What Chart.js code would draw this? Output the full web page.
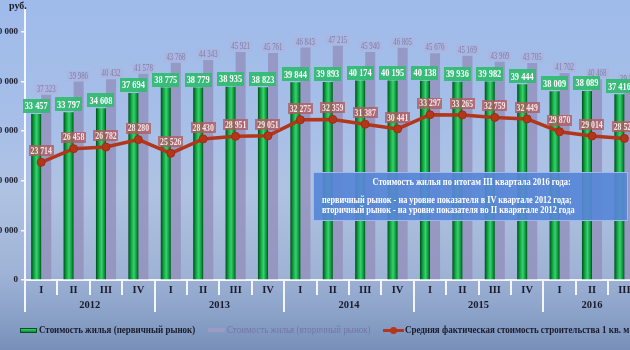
<!DOCTYPE html>
<html><head><meta charset="utf-8">
<script src="https://cdn.jsdelivr.net/npm/chart.js@4"></script>
<style>
html,body{margin:0;padding:0;width:630px;height:350px;overflow:hidden;}
body{background:linear-gradient(to bottom,#9fbbea 0%,#a7bfe8 35%,#afc2e2 55%,#9fb3d6 78%,#8aa1c8 90%,#7890b9 100%);position:relative;font-family:'Liberation Serif','Times New Roman',serif;}
#wrap{position:absolute;left:0;top:0;width:652px;height:350px;}
#rub{position:absolute;left:9px;top:0px;font:bold 10px 'Liberation Serif',serif;color:#1c1c2c;}
#note{position:absolute;left:313px;top:172px;width:315px;height:49px;background:rgba(88,134,214,0.93);border:1px solid #9dbaf0;box-sizing:border-box;color:#fff;font:bold 9.6px 'Liberation Serif',serif;}
#note .t{position:absolute;left:0;width:315px;top:3px;text-align:center;}
#note .t span{display:inline-block;transform:scaleX(0.88);transform-origin:center;}
#note .l1,#note .l2{position:absolute;left:8px;white-space:nowrap;transform:scaleX(0.86);transform-origin:left;}
#note .l1{top:21px;}
#note .l2{top:31px;}
#legend{position:absolute;left:0;top:323px;width:640px;height:14px;font:bold 10.2px 'Liberation Serif',serif;white-space:nowrap;}
.li{position:absolute;top:0;line-height:14px;transform:scaleX(0.88);transform-origin:left;}
.sw{position:absolute;top:5px;width:17px;height:4px;}
</style></head>
<body>
<div id="wrap"><canvas id="c" width="652" height="350"></canvas></div>
<div id="rub">руб.</div>
<div id="note"><div class="t"><span>Стоимость жилья по итогам III квартала 2016 года:</span></div>
<div class="l1">первичный рынок - на уровне показателя в IV квартале 2012 года;</div>
<div class="l2">вторичный рынок - на уровне показателя во II кварятале 2012 года</div></div>
<div id="legend">
<div class="sw" style="left:20px;background:linear-gradient(#36d070,#0a8a35);border:1px solid #05501f;box-sizing:border-box;height:5px;"></div>
<div class="li" style="left:39px;color:#1a1a28;">Стоимость жилья (первичный рынок)</div>
<div class="sw" style="left:208px;background:#9a9cc4;"></div>
<div class="li" style="left:227px;color:#7476a3;font-weight:normal;">Стоимость жилья (вторичный рынок)</div>
<div class="sw" style="left:383px;top:6px;height:3px;width:21px;background:#b5361a;"></div>
<div class="sw" style="left:390px;top:4px;width:7px;height:7px;border-radius:50%;background:#b5361a;"></div>
<div class="li" style="left:405px;color:#1a1a28;">Средняя фактическая стоимость строительства 1 кв. м</div>
</div>
<script>
const categories = ['I','II','III','IV','I','II','III','IV','I','II','III','IV','I','II','III','IV','I','II','III'];
const years = ['2012','2013','2014','2015','2016'];
const quartersPerYear = [4,4,4,4,3];
const primary = [33457,33797,34608,37694,38775,38779,38935,38823,39844,39893,40174,40195,40138,39936,39982,39444,38009,38089,37416];
const secondary = [37323,39986,40432,41578,43768,44343,45921,45761,46843,47215,45940,46805,45676,45169,43969,43705,41702,40468,39340];
const buildCost = [23714,26458,26782,28280,25526,28430,28951,29051,32275,32359,31387,30441,33297,33265,32759,32449,29870,29014,28520];
const yTicks = [0,10000,20000,30000,40000,50000];

const fmt = v => String(v).replace(/\B(?=(\d{3})+(?!\d))/g,' ');
const SERIF = "'Liberation Serif','Times New Roman',serif";

function greenFill(c){
  const chart=c.chart, xs=chart.scales && chart.scales.x;
  if(!xs || c.dataIndex==null || !chart.chartArea) return '#12a243';
  const bw = xs.width/categories.length*0.62/2;
  const cx = xs.getPixelForValue(c.dataIndex) - bw/2;
  const g = chart.ctx.createLinearGradient(cx-bw/2,0,cx+bw/2,0);
  g.addColorStop(0,'#004d1c');
  g.addColorStop(0.3,'#12a843');
  g.addColorStop(0.55,'#36d26e');
  g.addColorStop(0.85,'#0c8e37');
  g.addColorStop(1,'#00501d');
  return g;
}

function box(ctx,text,cx,bottom,font,sx,h,padX,bg,fg){
  ctx.font=font;
  const tw=ctx.measureText(text).width*sx;
  const w=tw+padX*2;
  ctx.fillStyle=bg;
  ctx.fillRect(Math.round(cx-w/2),Math.round(bottom-h),Math.round(w),h);
  ctx.fillStyle=fg;
  ctx.textAlign='center';ctx.textBaseline='middle';
  ctx.save();ctx.translate(cx,bottom-h/2+0.5);ctx.scale(sx,1);
  ctx.fillText(text,0,0);
  ctx.restore();
}

const labelsPlugin={
  id:'labels',
  afterDatasetsDraw(chart){
    const ctx=chart.ctx;ctx.save();
    const m1=chart.getDatasetMeta(1), m0=chart.getDatasetMeta(0), m2=chart.getDatasetMeta(2);
    m1.data.forEach((el,i)=>box(ctx,fmt(secondary[i]),el.x,el.y-1,'9.5px '+SERIF,0.72,10,2,'rgba(176,176,218,0.6)','#7b7da9'));
    m0.data.forEach((el,i)=>box(ctx,fmt(primary[i]),el.x,el.y-1,'bold 11px '+SERIF,0.76,14,2,'rgba(52,186,116,0.95)','#ffffff'));
    m2.data.forEach((el,i)=>box(ctx,fmt(buildCost[i]),el.x,el.y-6,'bold 10.5px '+SERIF,0.74,11,2,'rgba(176,92,98,0.8)','#f6e6e6'));
    ctx.restore();
  },
  afterDraw(chart){
    const ctx=chart.ctx, xs=chart.scales.x, bottom=chart.chartArea.bottom;
    const step=xs.width/categories.length;
    ctx.save();
    ctx.strokeStyle='#f4f6fb';ctx.lineWidth=2;
    let idx=0; const yearStarts=new Set();
    quartersPerYear.forEach(n=>{yearStarts.add(idx);idx+=n;});
    for(let i=0;i<categories.length;i++){
      const x=Math.round(xs.left+i*step);
      ctx.beginPath();ctx.moveTo(x,bottom);ctx.lineTo(x,yearStarts.has(i)?312:295);ctx.stroke();
    }
    ctx.fillStyle='#1a1a2a';ctx.font='bold 10.5px '+SERIF;ctx.textAlign='center';ctx.textBaseline='middle';
    idx=0;
    years.forEach((y,k)=>{
      const n=quartersPerYear[k];
      const cx=xs.left+(idx+n/2)*step;
      ctx.fillText(y,cx,305);
      idx+=n;
    });
    ctx.restore();
  }
};

new Chart(document.getElementById('c'),{
  data:{
    labels:categories,
    datasets:[
      {type:'bar',label:'Стоимость жилья (первичный рынок)',data:primary,backgroundColor:greenFill,order:2,categoryPercentage:0.62,barPercentage:1},
      {type:'bar',label:'Стоимость жилья (вторичный рынок)',data:secondary,backgroundColor:'rgba(146,144,188,0.8)',order:2,categoryPercentage:0.62,barPercentage:1},
      {type:'line',label:'Средняя фактическая стоимость строительства 1 кв. м',data:buildCost,borderColor:'#b3361a',borderWidth:3.5,pointRadius:4,pointBackgroundColor:'#b3361a',pointBorderColor:'#a02c12',pointBorderWidth:1,tension:0,order:0}
    ]
  },
  options:{
    responsive:false,animation:false,
    layout:{padding:{top:10,right:11.4,left:0,bottom:0}},
    plugins:{legend:{display:false},tooltip:{enabled:false}},
    scales:{
      x:{offset:true,grid:{display:false,drawTicks:false},border:{color:'#f4f6fb',width:2},
         ticks:{padding:4,color:'#1a1a2a',font:{family:SERIF,size:10.5,weight:'bold'},maxRotation:0,autoSkip:false},
         afterFit:s=>{s.height=70;}},
      y:{min:0,max:54400,grid:{drawOnChartArea:false,color:'#f4f6fb',tickLength:4,lineWidth:1.5},border:{color:'#f4f6fb',width:2},
         afterBuildTicks:s=>{s.ticks=yTicks.map(v=>({value:v}));},
         ticks:{padding:3,color:'#1a1a2a',font:{family:SERIF,size:9,weight:'bold'},callback:v=>fmt(v)},
         afterFit:s=>{s.width=25;}}
    }
  },
  plugins:[labelsPlugin]
});
</script>
</body></html>
